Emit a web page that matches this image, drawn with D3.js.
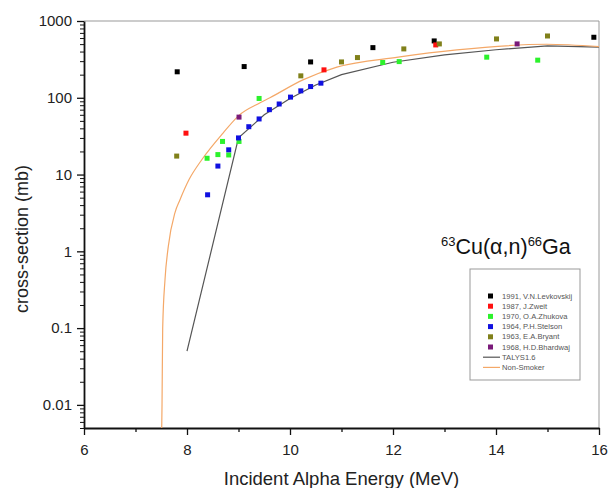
<!DOCTYPE html>
<html>
<head>
<meta charset="utf-8">
<script src="https://cdn.jsdelivr.net/npm/d3@7"></script>
<style>
  body { margin: 0; background: #fff; }
  svg { font-family: "Liberation Sans", Arial, sans-serif; }
</style>
</head>
<body>
<svg id="chart" width="610" height="488"></svg>
<script>
// 63Cu(a,n)66Ga excitation function: measured sets + TALYS / Non-Smoker curves

const levkovskijE = [7.81, 9.11, 10.40, 11.61, 12.80, 15.90];
const levkovskijS = [218, 255, 293, 450, 550, 614];

const zweitE = [7.98, 10.66, 12.83];
const zweitS = [34.6, 231, 488];

const zhukovaE = [8.39, 8.60, 8.69, 8.81, 9.01, 9.40, 11.80, 12.12, 13.82, 14.81];
const zhukovaS = [16.3, 18.2, 27, 18, 27, 98, 288, 296, 338, 309];

const stelsonE = [8.40, 8.60, 8.81, 9.00, 9.20, 9.40, 9.60, 9.79, 10.01, 10.21, 10.40, 10.60];
const stelsonS = [5.45, 12.9, 21, 30, 42, 53, 70, 83, 102, 123, 140, 155];

const bryantE = [7.80, 10.21, 11.00, 11.31, 12.21, 12.90, 14.01, 15.00];
const bryantS = [17.4, 193, 293, 334, 433, 503, 584, 638];

const bhardwajE = [9.01, 14.41];
const bhardwajS = [56, 503];

const talysE = [8.0, 9.0, 9.5, 10.0, 10.5, 11.0, 12.0, 13.0, 14.0, 15.0, 16.0];
const talysS = [0.05, 30, 60, 98, 147, 200, 290, 362, 422, 475, 456];

const smokerE = [7.509, 7.515, 7.528, 7.573, 7.637, 7.767, 7.864, 8.04, 8.29, 8.70, 9.01, 9.42, 9.61, 10.25, 10.91, 12.10, 13.24, 14.98, 16.0];
const smokerS = [0.005, 0.01, 0.1, 0.43, 1.16, 3.2, 4.7, 8.6, 15.7, 34.7, 59, 86, 100, 171, 251, 338, 420, 498, 464];

const yTicks = [0.01, 0.1, 1, 10, 100, 1000];
const xTicks = [6, 8, 10, 12, 14, 16];
const xMinor = [7, 9, 11, 13, 15];

const series = [
  { name: "1991, V.N.Levkovskij", color: "#000000", E: levkovskijE, S: levkovskijS },
  { name: "1987, J.Zweit", color: "#ff1010", E: zweitE, S: zweitS },
  { name: "1970, O.A.Zhukova", color: "#2cf22c", E: zhukovaE, S: zhukovaS },
  { name: "1964, P.H.Stelson", color: "#1010e0", E: stelsonE, S: stelsonS },
  { name: "1963, E.A.Bryant", color: "#80801a", E: bryantE, S: bryantS },
  { name: "1968, H.D.Bhardwaj", color: "#7a1a7a", E: bhardwajE, S: bhardwajS }
];

const curves = [
  { name: "TALYS1.6", color: "#555555", E: talysE, S: talysS, curve: d3.curveLinear },
  { name: "Non-Smoker", color: "#f4a868", E: smokerE, S: smokerS, curve: d3.curveMonotoneX }
];

const svg = d3.select("#chart");
const plotL = 84, plotR = 599, plotT = 21, plotB = 428;

const x = d3.scaleLinear().domain([6, 16]).range([plotL, plotR]);
const y = d3.scaleLog().domain([0.005, 1000]).range([plotB, plotT]);

// frame (top / right, thin grey)
svg.append("line").attr("x1", plotL).attr("x2", plotR).attr("y1", plotT).attr("y2", plotT)
  .attr("stroke", "#999").attr("stroke-width", 1);
svg.append("line").attr("x1", plotR).attr("x2", plotR).attr("y1", plotT).attr("y2", plotB)
  .attr("stroke", "#999").attr("stroke-width", 1);

// minor ticks
const yMinor = [];
[-3, -2, -1, 0, 1, 2].forEach(p => {
  for (let k = 2; k <= 9; k++) {
    const v = k * Math.pow(10, p);
    if (v >= 0.005 && v < 1000) yMinor.push(v);
  }
});

svg.append("g")
  .attr("transform", `translate(${plotL},0)`)
  .call(d3.axisLeft(y).tickValues(yMinor).tickSize(4).tickFormat(""))
  .call(a => a.select(".domain").remove())
  .call(a => a.selectAll("line").attr("stroke", "#111"));

svg.append("g")
  .attr("transform", `translate(0,${plotB})`)
  .call(d3.axisBottom(x).tickValues(xMinor).tickSize(4).tickFormat(""))
  .call(a => a.select(".domain").remove())
  .call(a => a.selectAll("line").attr("stroke", "#111").attr("stroke-width", 1.3));

// major axes
svg.append("g")
  .attr("transform", `translate(${plotL},0)`)
  .call(d3.axisLeft(y).tickValues(yTicks).tickSize(7).tickSizeOuter(0).tickPadding(5)
    .tickFormat(d => String(d)))
  .call(a => a.select(".domain").attr("stroke", "#111").attr("stroke-width", 1.8))
  .call(a => a.selectAll("line").attr("stroke", "#111").attr("stroke-width", 1.3))
  .call(a => a.selectAll("text").attr("font-size", 15).attr("fill", "#222")
    .attr("font-family", "Liberation Sans, Arial, sans-serif"));

svg.append("g")
  .attr("transform", `translate(0,${plotB})`)
  .call(d3.axisBottom(x).tickValues(xTicks).tickSize(7).tickSizeOuter(0).tickPadding(9))
  .call(a => a.select(".domain").attr("stroke", "#111").attr("stroke-width", 1.8))
  .call(a => a.selectAll("line").attr("stroke", "#111").attr("stroke-width", 1.3))
  .call(a => a.selectAll("text").attr("font-size", 15).attr("fill", "#222")
    .attr("font-family", "Liberation Sans, Arial, sans-serif"));

// axis titles
svg.append("text")
  .attr("x", (plotL + plotR) / 2)
  .attr("y", 485)
  .attr("text-anchor", "middle")
  .attr("font-size", 18.5)
  .attr("fill", "#222")
  .text("Incident Alpha Energy (MeV)");

svg.append("text")
  .attr("transform", "translate(28,239) rotate(-90)")
  .attr("text-anchor", "middle")
  .attr("font-size", 18)
  .attr("fill", "#222")
  .text("cross-section (mb)");

// theory curves
curves.forEach(c => {
  const pts = c.E.map((e, i) => [e, c.S[i]]);
  svg.append("path")
    .datum(pts)
    .attr("fill", "none")
    .attr("stroke", c.color)
    .attr("stroke-width", 1.2)
    .attr("d", d3.line().x(d => x(d[0])).y(d => y(d[1])).curve(c.curve));
});

// measured points
const ms = 5;
series.forEach(s => {
  svg.append("g")
    .selectAll("rect")
    .data(s.E.map((e, i) => [e, s.S[i]]))
    .join("rect")
    .attr("x", d => x(d[0]) - ms / 2)
    .attr("y", d => y(d[1]) - ms / 2)
    .attr("width", ms)
    .attr("height", ms)
    .attr("fill", s.color);
});

// reaction label
const react = svg.append("text")
  .attr("x", 441)
  .attr("y", 254)
  .attr("fill", "#111")
  .attr("font-size", 21.5);
react.append("tspan").attr("font-size", 13).attr("dy", -8).text("63");
react.append("tspan").attr("dy", 8).text("Cu(α,n)");
react.append("tspan").attr("font-size", 13).attr("dy", -8).text("66");
react.append("tspan").attr("dy", 8).text("Ga");

// legend
const lg = svg.append("g");
lg.append("rect")
  .attr("x", 470).attr("y", 269).attr("width", 110).attr("height", 111)
  .attr("fill", "#fff").attr("stroke", "#999").attr("stroke-width", 1);

const rowY = i => 296 + i * 10.2;
series.forEach((s, i) => {
  lg.append("rect")
    .attr("x", 488).attr("y", rowY(i) - 2.5)
    .attr("width", 5).attr("height", 5)
    .attr("fill", s.color);
  lg.append("text")
    .attr("x", 502).attr("y", rowY(i)).attr("dy", "0.35em")
    .attr("font-size", 7.6).attr("fill", "#555")
    .text(s.name);
});
curves.forEach((c, j) => {
  const yy = rowY(series.length + j);
  lg.append("line")
    .attr("x1", 483).attr("x2", 500).attr("y1", yy).attr("y2", yy)
    .attr("stroke", c.color).attr("stroke-width", 1.2);
  lg.append("text")
    .attr("x", 502).attr("y", yy).attr("dy", "0.35em")
    .attr("font-size", 7.6).attr("fill", "#555")
    .text(c.name);
});
</script>
</body>
</html>
